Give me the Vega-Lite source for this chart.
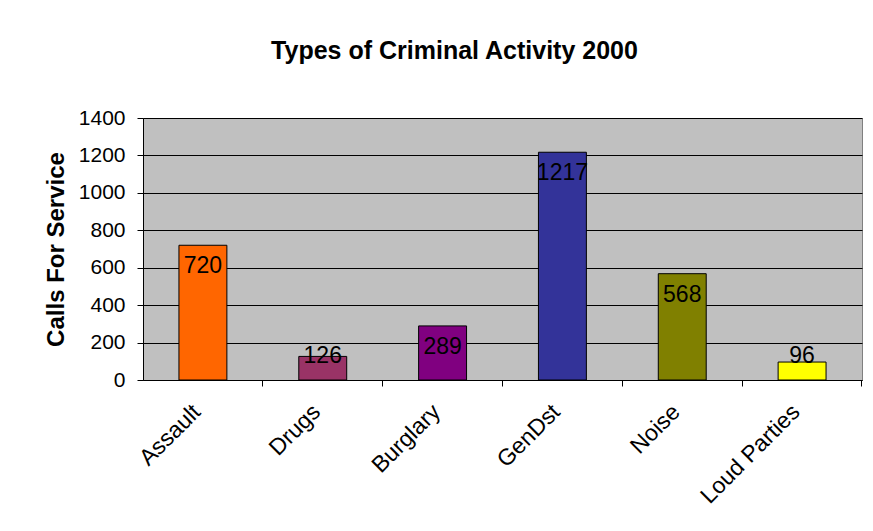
{
  "$schema": "https://vega.github.io/schema/vega-lite/v6.json",
  "width": 719,
  "height": 262,
  "autosize": "none",
  "padding": {"left": 143, "top": 118, "right": 11, "bottom": 151},
  "background": "white",
  "title": {
    "text": "Types of Criminal Activity 2000",
    "font": "Liberation Sans",
    "fontSize": 25,
    "fontWeight": "bold",
    "color": "black",
    "anchor": "middle",
    "dx": -48,
    "baseline": "alphabetic",
    "offset": 23
  },
  "config": {
    "view": {"fill": "#C0C0C0", "stroke": "#808080", "strokeWidth": 1},
    "font": "Liberation Sans"
  },
  "data": {
    "values": [
      {"cat": "Assault", "calls": 720},
      {"cat": "Drugs", "calls": 126},
      {"cat": "Burglary", "calls": 289},
      {"cat": "GenDst", "calls": 1217},
      {"cat": "Noise", "calls": 568},
      {"cat": "Loud Parties", "calls": 96}
    ]
  },
  "resolve": {"axis": {"y": "independent"}},
  "encoding": {
    "x": {
      "field": "cat",
      "type": "nominal",
      "sort": null,
      "scale": {"paddingInner": 0.6, "paddingOuter": 0.3},
      "axis": {
        "title": null,
        "labelAngle": -45,
        "labelAlign": "right",
        "labelBaseline": "middle",
        "labelFont": "Liberation Sans",
        "labelFontSize": 23,
        "labelColor": "black",
        "labelPadding": 22,
        "bandPosition": 1.75,
        "tickExtra": false,
        "labelOffset": -6,
        "ticks": true,
        "tickSize": 6,
        "tickWidth": 1,
        "tickColor": "black",
        "tickOpacity": 1,
        "domainColor": "black",
        "grid": false
      }
    }
  },
  "layer": [
    {
      "mark": {"type": "bar", "stroke": "black", "strokeWidth": 1},
      "encoding": {
        "y": {
          "field": "calls",
          "type": "quantitative",
          "scale": {"domain": [0, 1400], "nice": false},
          "axis": {
            "title": "Calls For Service",
            "titleFont": "Liberation Sans",
            "titleFontSize": 24,
            "titleFontWeight": "bold",
            "titleColor": "black",
            "titlePadding": 10,
            "values": [0, 200, 400, 600, 800, 1000, 1200, 1400],
            "format": "d",
            "labelFont": "Liberation Sans",
            "labelFontSize": 21,
            "labelColor": "black",
            "labelPadding": 12,
            "tickSize": 6,
            "tickColor": "black",
            "domainColor": "black",
            "grid": true,
            "gridColor": "black",
            "gridOpacity": 1,
            "gridWidth": 1
          }
        },
        "color": {
          "field": "cat",
          "type": "nominal",
          "legend": null,
          "scale": {
            "domain": ["Assault", "Drugs", "Burglary", "GenDst", "Noise", "Loud Parties"],
            "range": ["#FF6600", "#993366", "#800080", "#333399", "#808000", "#FFFF00"]
          }
        }
      }
    },
    {
      "transform": [{"calculate": "max(datum.calls - 112, 130)", "as": "labelY"}],
      "mark": {"type": "text", "font": "Liberation Sans", "fontSize": 23, "color": "black", "baseline": "middle"},
      "encoding": {
        "y": {"field": "labelY", "type": "quantitative", "axis": null},
        "text": {"field": "calls", "type": "quantitative"}
      }
    }
  ]
}
